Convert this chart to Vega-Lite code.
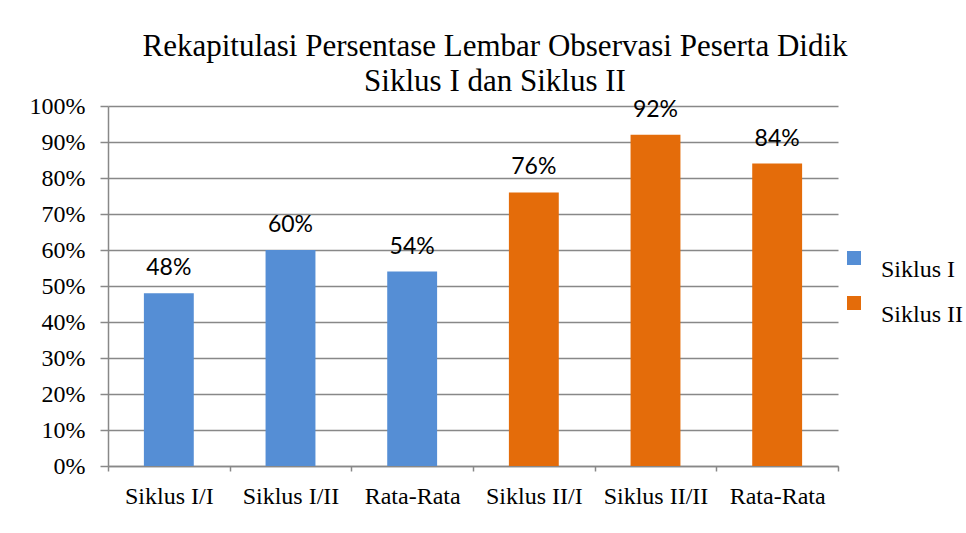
{
  "$schema": "https://vega.github.io/schema/vega-lite/v6.json",
  "width": 730,
  "height": 360,
  "autosize": {"type": "none"},
  "padding": {"left": 108, "top": 106, "right": 128, "bottom": 67},
  "background": "white",
  "title": {
    "text": ["Rekapitulasi Persentase Lembar Observasi Peserta Didik", "Siklus I dan Siklus II"],
    "font": "Liberation Serif",
    "fontSize": 31,
    "fontWeight": "normal",
    "color": "black",
    "lineHeight": 35,
    "anchor": "middle",
    "frame": "group",
    "dx": 22,
    "dy": 45,
    "offset": 10,
    "baseline": "bottom"
  },
  "data": {
    "values": [
      {"kategori": "Siklus I/I", "nilai": 0.48, "siklus": "Siklus I"},
      {"kategori": "Siklus I/II", "nilai": 0.60, "siklus": "Siklus I"},
      {"kategori": "Rata-Rata (I)", "nilai": 0.54, "siklus": "Siklus I"},
      {"kategori": "Siklus II/I", "nilai": 0.76, "siklus": "Siklus II"},
      {"kategori": "Siklus II/II", "nilai": 0.92, "siklus": "Siklus II"},
      {"kategori": "Rata-Rata (II)", "nilai": 0.84, "siklus": "Siklus II"}
    ]
  },
  "encoding": {
    "x": {
      "field": "kategori",
      "type": "nominal",
      "sort": null,
      "scale": {"paddingInner": 0, "paddingOuter": 0},
      "axis": {
        "title": null,
        "labelAngle": 0,
        "labelPadding": 13,
        "labelExpr": "(datum.label == 'Rata-Rata (I)' || datum.label == 'Rata-Rata (II)') ? 'Rata-Rata' : datum.label",
        "tickBand": "extent",
        "tickSize": 5,
        "grid": false
      }
    },
    "y": {
      "field": "nilai",
      "type": "quantitative",
      "scale": {"domain": [0, 1]},
      "axis": {
        "title": null,
        "values": [0, 0.1, 0.2, 0.3, 0.4, 0.5, 0.6, 0.7, 0.8, 0.9, 1],
        "format": ".0%",
        "grid": true,
        "tickSize": 8,
        "labelPadding": 15
      }
    }
  },
  "layer": [
    {
      "mark": {"type": "bar", "width": {"band": 0.41}},
      "encoding": {
        "color": {
          "field": "siklus",
          "type": "nominal",
          "scale": {"domain": ["Siklus I", "Siklus II"], "range": ["#558ED5", "#E46C0A"]},
          "legend": {
            "title": null,
            "orient": "none",
            "legendX": 734,
            "legendY": 140,
            "symbolType": "square",
            "symbolSize": 196,
            "symbolStrokeWidth": 0,
            "symbolOpacity": 1,
            "labelFont": "Liberation Serif",
            "labelFontSize": 24,
            "labelColor": "black",
            "labelBaseline": "top",
            "labelOffset": 15,
            "labelLimit": 200,
            "rowPadding": 9
          }
        }
      }
    },
    {
      "mark": {"type": "text", "dy": -18, "baseline": "alphabetic", "font": "Lato", "fontSize": 23, "color": "black"},
      "encoding": {
        "text": {"field": "nilai", "type": "quantitative", "format": ".0%"}
      }
    }
  ],
  "config": {
    "view": {"stroke": null},
    "axis": {
      "labelFont": "Liberation Serif",
      "labelFontSize": 24,
      "labelColor": "black",
      "gridColor": "#888888",
      "gridWidth": 1.5,
      "tickColor": "#888888",
      "tickWidth": 1.5,
      "domainColor": "#888888",
      "domainWidth": 1.5
    }
  }
}
